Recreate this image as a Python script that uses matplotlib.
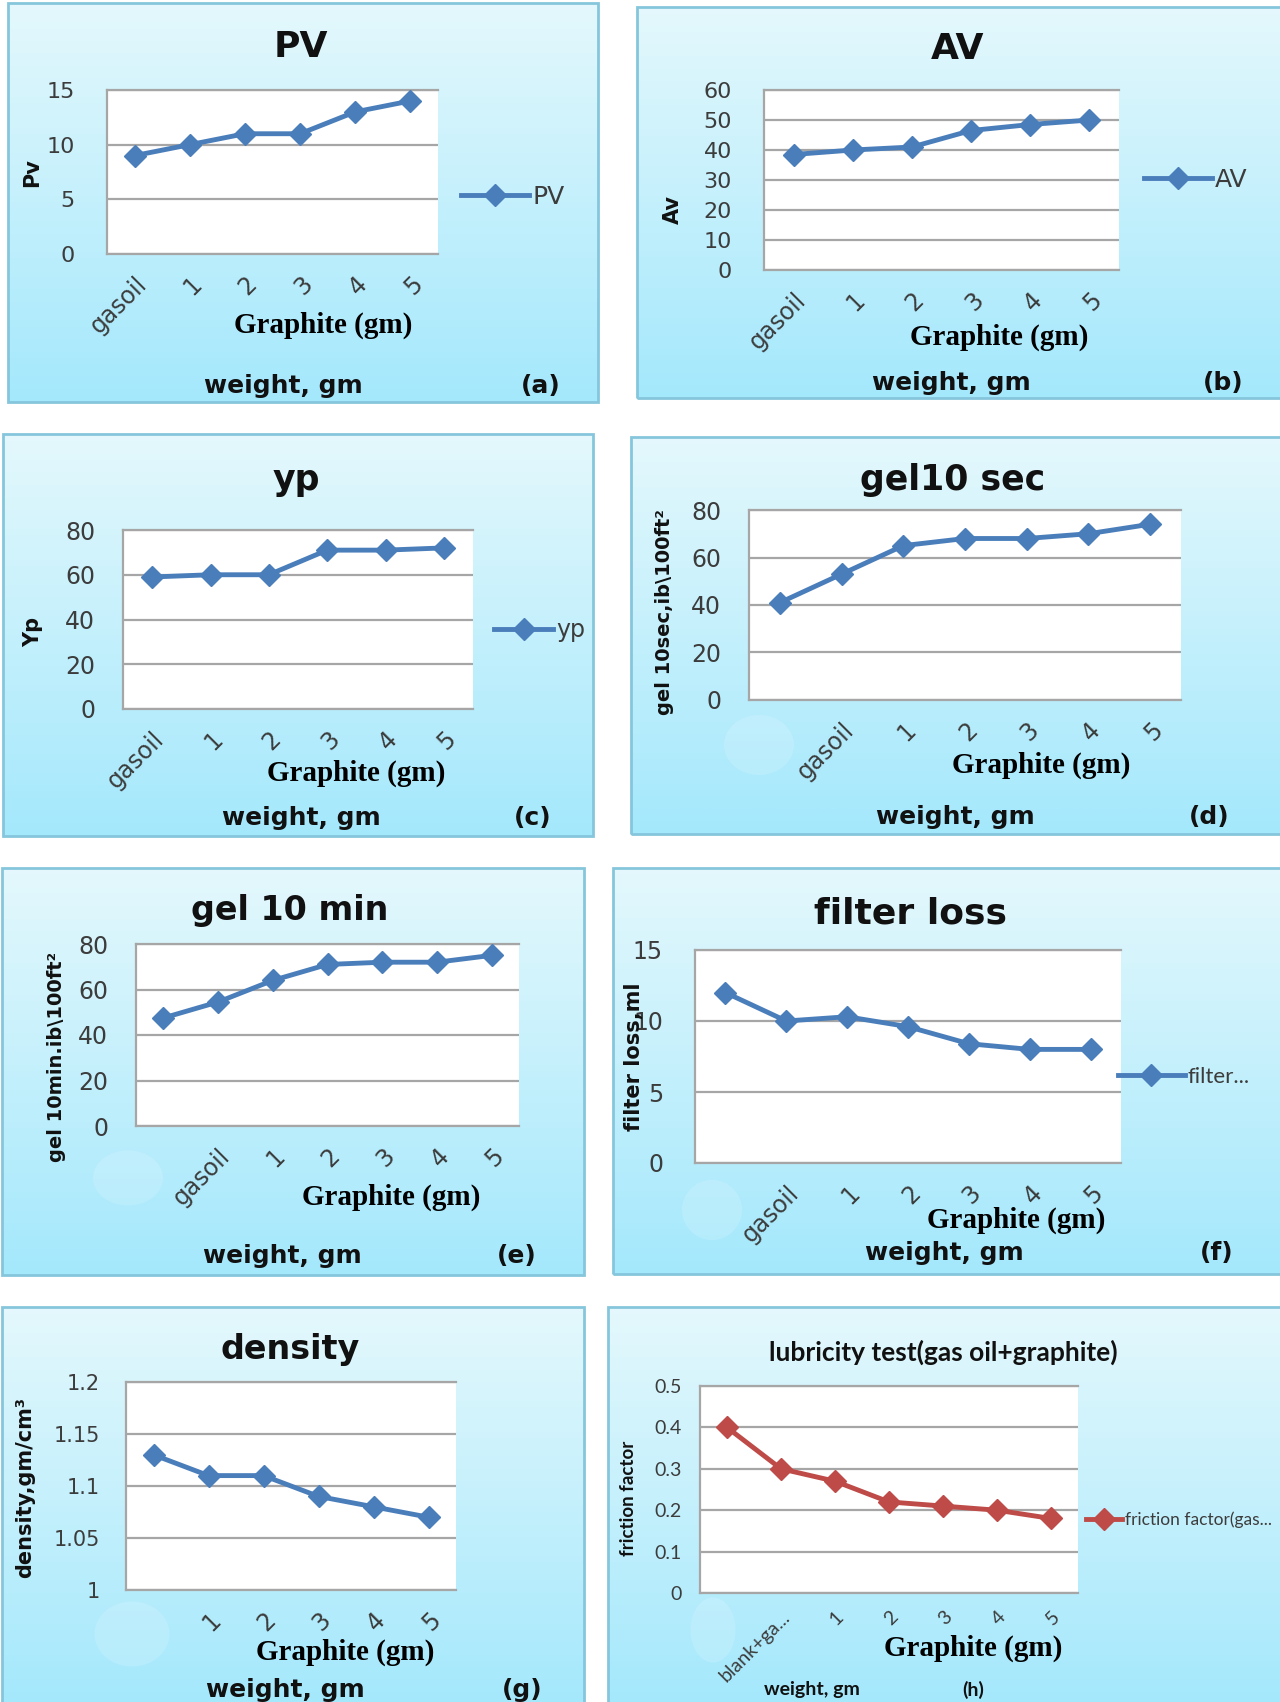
import numpy as np
import matplotlib
matplotlib.use("Agg")
import matplotlib.pyplot as plt
from matplotlib.colors import LinearSegmentedColormap
from matplotlib.patches import Rectangle, Ellipse
from matplotlib import font_manager

# ---------------- data ----------------
cats_a = ["gasoil", "1", "2", "3", "4", "5"]
pv = [9, 10, 11, 11, 13, 14]
cats_b = ["gasoil", "1", "2", "3", "4", "5"]
av = [38.5, 40, 41, 46.5, 48.5, 50]
cats_c = ["gasoil", "1", "2", "3", "4", "5"]
yp = [59, 60, 60, 71, 71, 72]
cats_d = ["", "gasoil", "1", "2", "3", "4", "5"]
gel10sec = [41, 53, 65, 68, 68, 70, 74]
cats_e = ["", "gasoil", "1", "2", "3", "4", "5"]
gel10min = [47.5, 54.5, 64, 71, 72, 72, 75]
cats_f = ["", "gasoil", "1", "2", "3", "4", "5"]
filter_loss = [12, 10, 10.3, 9.6, 8.4, 8, 8]
cats_g = ["", "1", "2", "3", "4", "5"]
density = [1.13, 1.11, 1.11, 1.09, 1.08, 1.07]
cats_h = ["", "blank+ga...", "1", "2", "3", "4", "5"]
friction = [0.40, 0.30, 0.27, 0.22, 0.21, 0.20, 0.18]

yt_a = [0, 5, 10, 15]
yt_b = [0, 10, 20, 30, 40, 50, 60]
yt_c = [0, 20, 40, 60, 80]
yt_f = [0, 5, 10, 15]
yt_g = [1.0, 1.05, 1.1, 1.15, 1.2]
ytl_g = ["1", "1.05", "1.1", "1.15", "1.2"]
yt_h = [0, 0.1, 0.2, 0.3, 0.4, 0.5]
ytl_h = ["0", "0.1", "0.2", "0.3", "0.4", "0.5"]

# ---------------- setup ----------------
W, H = 1280, 1702
fig = plt.figure(figsize=(W / 100, H / 100), dpi=100)
fig.patch.set_facecolor("white")

names = {f.name for f in font_manager.fontManager.ttflist}
DJ = "DejaVu Sans"
LATO = "Lato" if "Lato" in names else DJ
SERIF = "Liberation Serif" if "Liberation Serif" in names else "DejaVu Serif"


def rect_px(x0, y0, x1, y1):
    return [x0 / W, 1 - y1 / H, (x1 - x0) / W, (y1 - y0) / H]


def fpos(x, y):
    return x / W, 1 - y / H


grad_cmap = LinearSegmentedColormap.from_list("g", ["#e4f8fd", "#a4e8fc"])
BLUE = "#4a7ebb"
RED = "#be4b48"
GRID = "#a6a6a6"
TICKC = "#3c3c3c"

panels = [
    dict(cats=cats_a, vals=pv, color=BLUE, yt=yt_a, ytl=None, ylim=(0, 15),
         panel=(8, 3, 598, 402), inner=(107, 90, 438, 254),
         title="PV", tpos=(301, 47), tsize=26, tfam=DJ,
         ylabel="Pv", ylpos=(32, 173), ylsize=15,
         legend="PV", lpos=(461, 197), lsize=18, lfam=DJ, lhl=2.7,
         gpos=(323, 325), wpos=(283, 386), letter="(a)", lepos=(541, 386),
         ytick=16, xtick=17, tickfam=DJ, ypad=23, xpad=13, wsize=18, wfam=DJ,
         blob=None),
    dict(cats=cats_b, vals=av, color=BLUE, yt=yt_b, ytl=None, ylim=(0, 60),
         panel=(637, 7, 1282, 398), inner=(764, 90, 1119, 270),
         title="AV", tpos=(958, 49), tsize=26, tfam=DJ,
         ylabel="Av", ylpos=(673, 210), ylsize=15,
         legend="AV", lpos=(1144, 180), lsize=18, lfam=DJ, lhl=2.7,
         gpos=(999, 337), wpos=(951, 383), letter="(b)", lepos=(1223, 383),
         ytick=16, xtick=17, tickfam=DJ, ypad=23, xpad=13, wsize=18, wfam=DJ,
         blob=None),
    dict(cats=cats_c, vals=yp, color=BLUE, yt=yt_c, ytl=None, ylim=(0, 80),
         panel=(3, 434, 593, 836), inner=(123, 530, 473, 709),
         title="yp", tpos=(296, 480), tsize=25, tfam=DJ,
         ylabel="Yp", ylpos=(33, 632), ylsize=15,
         legend="yp", lpos=(494, 630), lsize=17, lfam=DJ, lhl=2.5,
         gpos=(356, 773), wpos=(301, 818), letter="(c)", lepos=(533, 818),
         ytick=17, xtick=17, tickfam=DJ, ypad=20, xpad=13, wsize=18, wfam=DJ,
         blob=None),
    dict(cats=cats_d, vals=gel10sec, color=BLUE, yt=yt_c, ytl=None, ylim=(0, 80),
         panel=(631, 437, 1282, 834), inner=(749, 510, 1181, 700),
         title="gel10 sec", tpos=(953, 480), tsize=25, tfam=DJ,
         ylabel="gel 10sec,ib\\100ft²", ylpos=(664, 612), ylsize=14,
         legend=None, lpos=None, lsize=16, lfam=DJ, lhl=3.0,
         gpos=(1041, 765), wpos=(955, 817), letter="(d)", lepos=(1209, 817),
         ytick=17, xtick=17, tickfam=DJ, ypad=20, xpad=13, wsize=18, wfam=DJ,
         blob=(759, 745, 70, 60)),
    dict(cats=cats_e, vals=gel10min, color=BLUE, yt=yt_c, ytl=None, ylim=(0, 80),
         panel=(2, 868, 584, 1275), inner=(136, 944, 519, 1126),
         title="gel 10 min", tpos=(290, 911), tsize=24, tfam=DJ,
         ylabel="gel 10min.ib\\100ft²", ylpos=(57, 1057), ylsize=14,
         legend=None, lpos=None, lsize=16, lfam=DJ, lhl=3.0,
         gpos=(391, 1197), wpos=(282, 1256), letter="(e)", lepos=(517, 1256),
         ytick=17, xtick=17, tickfam=DJ, ypad=20, xpad=13, wsize=18, wfam=DJ,
         blob=(128, 1178, 70, 55)),
    dict(cats=cats_f, vals=filter_loss, color=BLUE, yt=yt_f, ytl=None, ylim=(0, 15),
         panel=(613, 868, 1282, 1274), inner=(695, 950, 1121, 1163),
         title="filter loss", tpos=(910, 913), tsize=26, tfam=DJ,
         ylabel="filter loss,ml", ylpos=(634, 1057), ylsize=15,
         legend="filter...", lpos=(1118, 1077), lsize=16, lfam=LATO, lhl=3.0,
         gpos=(1016, 1220), wpos=(944, 1253), letter="(f)", lepos=(1217, 1253),
         ytick=17, xtick=17, tickfam=DJ, ypad=23, xpad=13, wsize=18, wfam=DJ,
         blob=(712, 1210, 60, 60)),
    dict(cats=cats_g, vals=density, color=BLUE, yt=yt_g, ytl=ytl_g, ylim=(1.0, 1.2),
         panel=(2, 1307, 584, 1705), inner=(126, 1382, 456, 1590),
         title="density", tpos=(290, 1350), tsize=24, tfam=DJ,
         ylabel="density,gm/cm³", ylpos=(25, 1487), ylsize=15,
         legend=None, lpos=None, lsize=16, lfam=DJ, lhl=3.0,
         gpos=(345, 1652), wpos=(285, 1690), letter="(g)", lepos=(522, 1690),
         ytick=15, xtick=17, tickfam=DJ, ypad=19, xpad=13, wsize=18, wfam=DJ,
         blob=(132, 1634, 75, 65)),
    dict(cats=cats_h, vals=friction, color=RED, yt=yt_h, ytl=ytl_h, ylim=(0, 0.5),
         panel=(608, 1307, 1282, 1705), inner=(700, 1386, 1078, 1593),
         title="lubricity test(gas oil+graphite)", tpos=(943, 1352), tsize=19, tfam=LATO,
         ylabel="friction factor", ylpos=(628, 1498), ylsize=13.5,
         legend="friction factor(gas...", lpos=(1086, 1520), lsize=12.5, lfam=LATO, lhl=2.1,
         gpos=(973, 1648), wpos=(812, 1690), letter="(h)", lepos=(973, 1690),
         ytick=14, xtick=14, tickfam=LATO, ypad=13, xpad=11, wsize=14, wfam=LATO,
         blob=(713, 1630, 45, 65)),
]

for p in panels:
    # panel background with gradient
    bg = fig.add_axes(rect_px(*p["panel"]))
    bg.imshow(np.linspace(0, 1, 256).reshape(-1, 1), aspect="auto",
              cmap=grad_cmap, extent=[0, 1, 0, 1], interpolation="bilinear")
    bg.set_xlim(0, 1)
    bg.set_ylim(0, 1)
    bg.axis("off")
    bg.add_patch(Rectangle((0, 0), 1, 1, transform=bg.transAxes, fill=False,
                           ec="#86c6dc", lw=2, clip_on=False))
    if p["blob"]:
        bx, by, bw, bh = p["blob"]
        x0, y0, x1, y1 = p["panel"]
        bg.add_patch(Ellipse(((bx - x0) / (x1 - x0), 1 - (by - y0) / (y1 - y0)),
                             bw / (x1 - x0), bh / (y1 - y0), angle=0,
                             transform=bg.transAxes, fc="white", ec="none", alpha=0.15))

    ax = fig.add_axes(rect_px(*p["inner"]))
    ax.set_facecolor("white")
    cats = p["cats"]
    n = len(cats)
    x = np.arange(n)
    line, = ax.plot(x, p["vals"], color=p["color"], lw=3.5, marker="D", ms=11,
                    mfc=p["color"], mec=p["color"], solid_joinstyle="round",
                    label=p["legend"] or "_", clip_on=False, zorder=3)
    ax.set_xlim(-0.5, n - 0.5)
    ax.set_ylim(*p["ylim"])
    ax.set_yticks(p["yt"])
    if p["ytl"] is not None:
        ax.set_yticklabels(p["ytl"])
    ax.set_xticks(x)
    ax.set_xticklabels(cats, rotation=45, ha="right", va="top",
                       rotation_mode="anchor")
    ax.tick_params(axis="y", length=0, pad=p["ypad"], labelcolor=TICKC,
                   labelsize=p["ytick"])
    ax.tick_params(axis="x", length=0, pad=p["xpad"], labelcolor=TICKC,
                   labelsize=p["xtick"])
    for lab in ax.get_xticklabels() + ax.get_yticklabels():
        lab.set_fontfamily(p["tickfam"])
    ax.yaxis.grid(True, color=GRID, lw=1.6)
    ax.set_axisbelow(True)
    ax.spines["right"].set_visible(False)
    for s in ("left", "bottom", "top"):
        ax.spines[s].set_color(GRID)
        ax.spines[s].set_linewidth(1.6)

    if p["legend"]:
        ax.legend(handles=[line], labels=[p["legend"]], loc="center left",
                  bbox_to_anchor=fpos(*p["lpos"]), bbox_transform=fig.transFigure,
                  frameon=False, handlelength=p["lhl"], handletextpad=0.15,
                  borderpad=0, borderaxespad=0,
                  prop=dict(family=p["lfam"], size=p["lsize"]),
                  labelcolor=TICKC)

    fig.text(*fpos(*p["tpos"]), p["title"], ha="center", va="center",
             fontsize=p["tsize"], fontweight="bold", family=p["tfam"], color="#111111")
    fig.text(*fpos(*p["ylpos"]), p["ylabel"], ha="center", va="center",
             rotation=90, fontsize=p["ylsize"], fontweight="bold", family=p["wfam"],
             color="#111111")
    fig.text(*fpos(*p["gpos"]), "Graphite (gm)", ha="center", va="center",
             fontsize=21, fontweight="bold", family=SERIF, color="black")
    fig.text(*fpos(*p["wpos"]), "weight, gm", ha="center", va="center",
             fontsize=p["wsize"], fontweight="bold", family=p["wfam"], color="#111111")
    fig.text(*fpos(*p["lepos"]), p["letter"], ha="center", va="center",
             fontsize=p["wsize"], fontweight="bold", family=p["wfam"], color="#111111")

fig.savefig("out.png", dpi=100, facecolor="white")
